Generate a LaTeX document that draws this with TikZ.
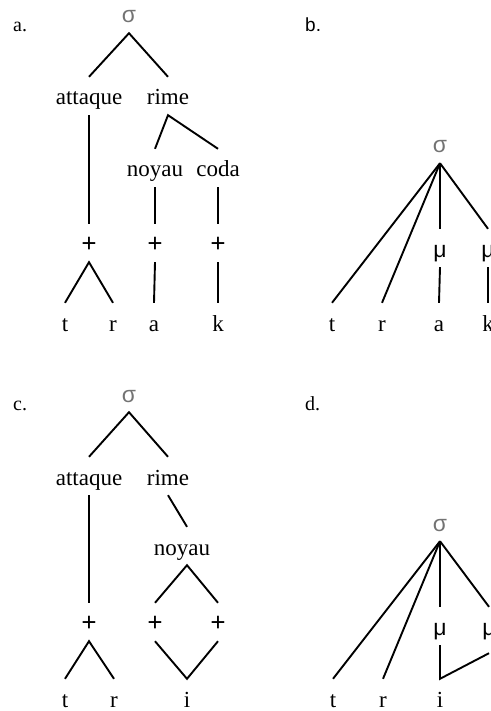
\documentclass[tikz,border=0pt]{standalone}
\usepackage{fontspec}
\setmainfont{Liberation Serif}
\newfontfamily\sansf{Liberation Sans}
\newcommand\mysig{\textcolor{black!55}{\sansf σ}}
\newcommand\mymu{{\sansf μ}}
\newcommand\mypl{{\fontsize{27}{30}\selectfont\textbf{+}}}
\tikzset{
  w/.style={font=\fontsize{23}{27}\selectfont, anchor=base, text height=22pt, text depth=4pt, inner xsep=0pt, inner ysep=6pt},
  lab/.style={font=\fontsize{20}{24}\selectfont, anchor=base west, inner sep=0pt},
  br/.style={line width=1.9pt}
}
\begin{document}
\begin{tikzpicture}[x=1pt,y=-1pt]
\useasboundingbox (0,0) rectangle (490,711);
\clip (0,0) rectangle (490,711);
% ---------- panel a
\node[lab] (la) at (13,32) {a.};
\node[w] (sa) at (129,23) {\mysig};
\node[w] (atta) at (89,105) {attaque};
\node[w] (rimea) at (168,105) {rime};
\node[w] (noya) at (155,177) {noyau};
\node[w] (codaa) at (218,177) {coda};
\node[w] (pa1) at (89,252) {\mypl};
\node[w] (pa2) at (155,252) {\mypl};
\node[w] (pa3) at (218,252) {\mypl};
\node[w] (ta) at (65,331) {t};
\node[w] (ra) at (113,331) {r};
\node[w] (aa) at (154,331) {a};
\node[w] (ka) at (218,331) {k};
\draw[br] (atta.north) -- (sa.south) -- (rimea.north);
\draw[br] (noya.north) -- (rimea.south) -- (codaa.north);
\draw[br] (atta.south) -- (pa1.north);
\draw[br] (noya.south) -- (pa2.north);
\draw[br] (codaa.south) -- (pa3.north);
\draw[br] (ta.north) -- (pa1.south) -- (ra.north);
\draw[br] (pa2.south) -- (aa.north);
\draw[br] (pa3.south) -- (ka.north);
% ---------- panel b
\node[lab,font=\sansf\fontsize{19}{22}\selectfont] (lb) at (305,32) {b.};
\node[w] (sb) at (440,153) {\mysig};
\node[w] (tb) at (332,331) {t};
\node[w] (rb) at (382,331) {r};
\node[w] (mub) at (440,257) {\mymu};
\node[w] (mub2) at (488,257) {\mymu};
\node[w] (ab) at (439,331) {a};
\node[w] (kb) at (488,331) {k};
\draw[br] (sb.south) -- (tb.north);
\draw[br] (sb.south) -- (rb.north);
\draw[br] (sb.south) -- (mub.north);
\draw[br] (sb.south) -- (mub2.north);
\draw[br] (mub.south) -- (ab.north);
\draw[br] (mub2.south) -- (kb.north);
% ---------- panel c
\node[lab] (lc) at (13,410) {c.};
\node[w] (sc) at (129,402) {\mysig};
\node[w] (attc) at (89,485) {attaque};
\node[w] (rimec) at (168,485) {rime};
\node[w] (noyc) at (182,555) {noyau};
\node[w] (pc1) at (89,631) {\mypl};
\node[w] (pc2) at (155,631) {\mypl};
\node[w] (pc3) at (218,631) {\mypl};
\node[w] (tc) at (65,707) {t};
\node[w] (rc) at (114,707) {r};
\node[w] (ic) at (187,707) {i};
\draw[br] (attc.north) -- (sc.south) -- (rimec.north);
\draw[br] (rimec.south) -- ([xshift=5pt]noyc.north);
\draw[br] (pc2.north) -- ([xshift=5pt]noyc.south) -- (pc3.north);
\draw[br] (attc.south) -- (pc1.north);
\draw[br] (tc.north) -- (pc1.south) -- (rc.north);
\draw[br] (pc2.south) -- (ic.north) -- (pc3.south);
% ---------- panel d
\node[lab] (ld) at (305,410) {d.};
\node[w] (sd) at (440,531) {\mysig};
\node[w] (td) at (333,707) {t};
\node[w] (rd) at (383,707) {r};
\node[w] (mud) at (440,635) {\mymu};
\node[w] (mud2) at (489,635) {\mymu};
\node[w] (id) at (440,707) {i};
\draw[br] (sd.south) -- (td.north);
\draw[br] (sd.south) -- (rd.north);
\draw[br] (sd.south) -- (mud.north);
\draw[br] (sd.south) -- (mud2.north);
\draw[br] (mud.south) -- (id.north) -- ([yshift=-8pt]mud2.south);
\end{tikzpicture}
\end{document}
